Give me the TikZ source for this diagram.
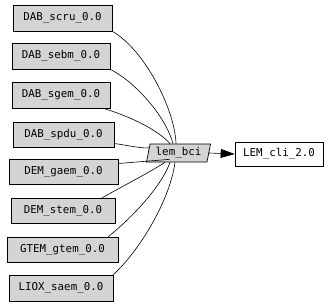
\documentclass[tikz,border=0pt]{standalone}
\usepackage{fontspec}
\newfontfamily\dvmono{DejaVu Sans Mono}
\usetikzlibrary{shapes.geometric,arrows.meta,calc}
\begin{document}
\begin{tikzpicture}[x=1pt,y=-1pt, every node/.style={inner sep=0pt}]
  \tikzset{
    modbox/.style={draw=black, fill=black!17, line width=0.7pt, minimum height=25pt, font=\dvmono\fontsize{10.8}{12}\selectfont},
    joinbox/.style={modbox, trapezium, trapezium left angle=72, trapezium right angle=108,
      trapezium stretches body, minimum width=64pt, minimum height=18pt},
    outbox/.style={modbox, fill=white, minimum height=24pt},
    wire/.style={draw=black, line width=0.6pt}
  }

  % fixed frame, y runs downwards
  \path[use as bounding box] (0,0) rectangle (328,305);

  % input boxes
  \node[modbox, minimum width=99pt, minimum height=26pt] (scru) at (62.5,18) {DAB\_scru\_0.0};
  \node[modbox, minimum width=98pt, minimum height=26pt] (sebm) at (61,56) {DAB\_sebm\_0.0};
  \node[modbox, minimum width=98pt, minimum height=26pt] (sgem) at (61,95) {DAB\_sgem\_0.0};
  \node[modbox, minimum width=101pt] (spdu) at (63.5,134.5) {DAB\_spdu\_0.0};
  \node[modbox, minimum width=109pt] (gaem) at (63.5,171.5) {DEM\_gaem\_0.0};
  \node[modbox, minimum width=104pt] (stem) at (63,210.5) {DEM\_stem\_0.0};
  \node[modbox, minimum width=111pt] (gtem) at (62.5,249.5) {GTEM\_gtem\_0.0};
  \node[modbox, minimum width=104pt, minimum height=26pt] (saem) at (61,288) {LIOX\_saem\_0.0};

  % join and result
  \node[joinbox] (bci) at (178.5,153) {lem\_bci};
  \node[outbox, minimum width=88pt] (cli) at (279,154) {LEM\_cli\_2.0};

  % links into the join
  \draw[wire] (scru.south east) .. controls (145,50) and (175,110) .. ($(bci.north)+(-2.5,0)$);
  \draw[wire] (sebm.south east) .. controls (135,82) and (165,115) .. ($(bci.north)+(-5.5,0)$);
  \draw[wire] ($(sgem.south east)+(-7,0)$) .. controls (135,118) and (160,132) .. ($(bci.north)+(-8.5,0)$);
  \draw[wire] ($(spdu.east)+(0,9)$) .. controls (126,145) and (137,148) .. ($(bci.west)+(1.5,-5)$);
  \draw[wire] ($(gaem.east)+(0,-8)$) -- ($(bci.south west)+(0.5,-3)$);
  \draw[wire] ($(stem.north east)+(-13,0)$) .. controls (125,185) and (150,172) .. ($(bci.south)+(-13.5,0)$);
  \draw[wire] ($(gtem.north east)+(-10,0)$) .. controls (135,215) and (162,185) .. ($(bci.south)+(-8.5,0)$);
  \draw[wire] (saem.north east) .. controls (140,250) and (170,200) .. ($(bci.south)+(-3.5,0)$);

  % result link
  \draw[wire, -{Triangle[length=14pt,width=9pt]}] (bci.east) -- (cli.west);

\end{tikzpicture}
\end{document}
